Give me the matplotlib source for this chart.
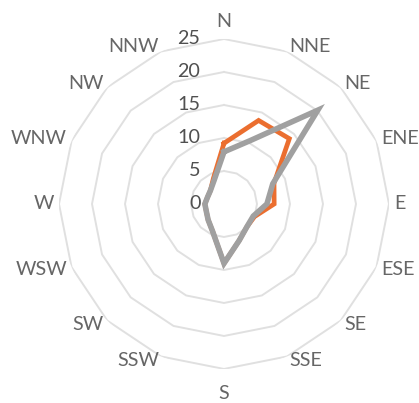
import numpy as np
import matplotlib
matplotlib.use("Agg")
import matplotlib.pyplot as plt

plt.rcParams['font.family'] = ['Lato', 'DejaVu Sans']

# Wind directions, clockwise from north
directions = ["N", "NNE", "NE", "ENE", "E", "ESE", "SE", "SSE",
              "S", "SSW", "SW", "WSW", "W", "WNW", "NW", "NNW"]

# Frequency per direction for the two series
series_orange = [9.2, 13.7, 14.0, 8.2, 7.6, 5.0, 4.9, 6.0,
                 9.0, 4.5, 3.4, 2.9, 2.9, 2.7, 2.9, 4.2]
series_gray = [7.9, 10.4, 20.1, 8.0, 6.5, 4.8, 4.9, 6.0,
               9.0, 4.5, 3.4, 2.9, 2.9, 2.7, 2.9, 3.9]

# Value axis
ring_levels = [5, 10, 15, 20, 25]
value_ticks = [0, 5, 10, 15, 20, 25]
r_max = 25

ORANGE = "#EB6E2F"
GRAY = "#A0A0A0"
GRID = "#E0E0E0"
CAT_TEXT = "#666666"
VAL_TEXT = "#505050"

fig = plt.figure(figsize=(4.19, 4.03), dpi=100)
ax = fig.add_axes([0.1408, 0.0844, 0.7876, 0.8189], projection="polar")
ax.set_theta_zero_location("N")
ax.set_theta_direction(-1)
ax.set_ylim(0, r_max)
ax.grid(False)
ax.spines["polar"].set_visible(False)
ax.set_xticks([])
ax.set_yticks([])
ax.patch.set_alpha(0)

n = len(directions)
theta = np.linspace(0, 2 * np.pi, n, endpoint=False)
theta_closed = np.append(theta, theta[0])

# Polygonal gridlines
for lvl in ring_levels:
    ax.plot(theta_closed, [lvl] * (n + 1), color=GRID, lw=1.4, zorder=1)

def closed(vals):
    return np.append(vals, vals[0])

ax.plot(theta_closed, closed(series_orange), color=ORANGE, lw=3.4, zorder=3,
        solid_joinstyle="miter")
ax.plot(theta_closed, closed(series_gray), color=GRAY, lw=4.0, zorder=4,
        solid_joinstyle="miter")

# Category labels around the outside
r_lab = r_max * 1.03
for ang, name in zip(theta, directions):
    s, c = np.sin(ang), np.cos(ang)
    if abs(s) < 0.1:
        ha = "center"
        va = "bottom" if c > 0 else "top"
        off = (0, 3 if c > 0 else -8)
    else:
        ha = "left" if s > 0 else "right"
        va = "center"
        off = (0, 0)
    ax.annotate(name, xy=(ang, r_lab), xytext=off, textcoords="offset points",
                ha=ha, va=va, fontsize=14.2, color=CAT_TEXT,
                annotation_clip=False)

# Value labels along the north axis
for v in value_ticks:
    ax.annotate(str(v), xy=(0, v), xytext=(-17, 0), textcoords="offset points",
                ha="right", va="center", fontsize=14.2, color=VAL_TEXT,
                annotation_clip=False)

fig.savefig("out.png", dpi=100)
